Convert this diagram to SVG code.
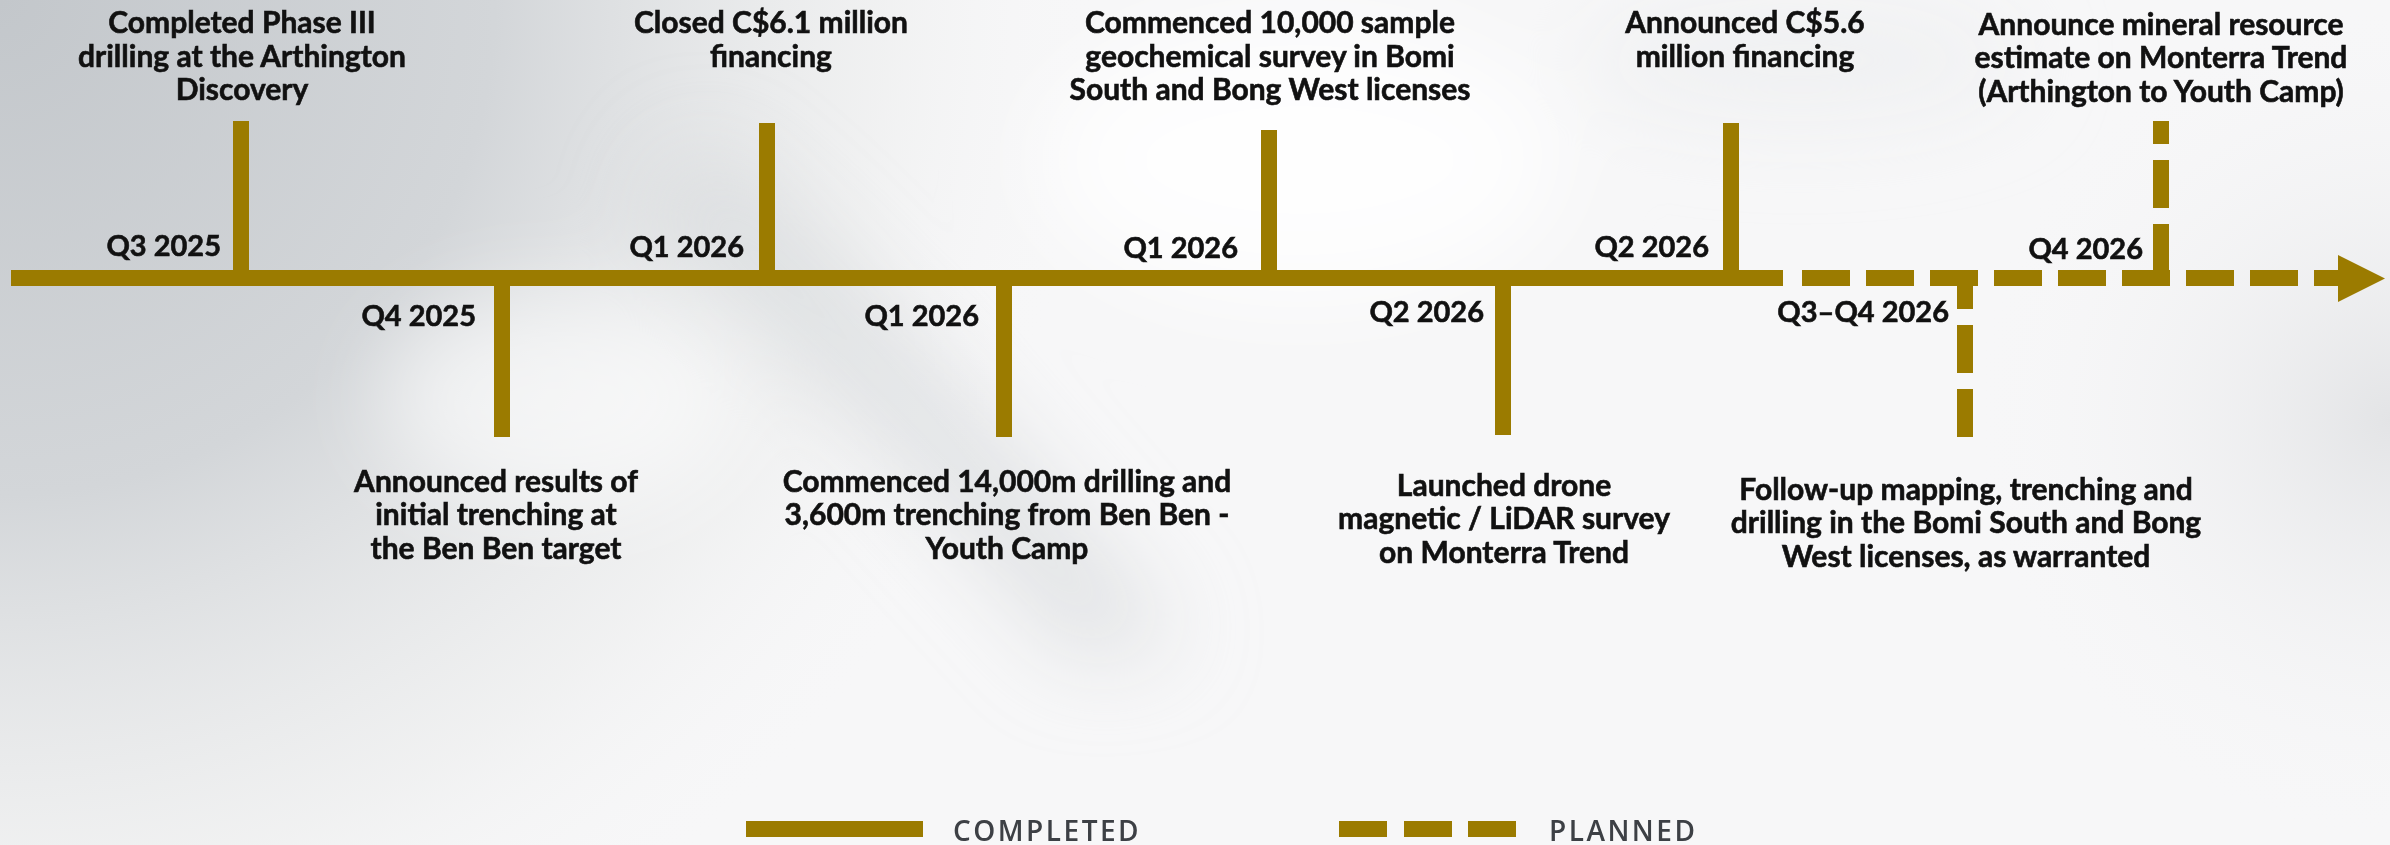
<svg xmlns="http://www.w3.org/2000/svg" width="2390" height="845" viewBox="0 0 2390 845">
  <defs>
    <radialGradient id="bgLeft" cx="0" cy="0" r="1100" gradientUnits="userSpaceOnUse">
      <stop offset="0" stop-color="#c3c7cb"/>
      <stop offset="0.45" stop-color="#d3d6d9"/>
      <stop offset="0.8" stop-color="#eceded" stop-opacity="0.6"/>
      <stop offset="1" stop-color="#f7f7f8" stop-opacity="0"/>
    </radialGradient>
    <radialGradient id="bgRight" cx="2390" cy="420" r="420" gradientUnits="userSpaceOnUse">
      <stop offset="0" stop-color="#e3e4e6"/>
      <stop offset="1" stop-color="#f7f7f8" stop-opacity="0"/>
    </radialGradient>
    <filter id="soft" x="-50%" y="-50%" width="200%" height="200%">
      <feGaussianBlur stdDeviation="45"/>
    </filter>
    <style>
      .gold { fill: #9b7b00; }
      .stem { stroke: #9b7b00; stroke-width: 16; fill: none; }
      .dash { stroke: #9b7b00; stroke-width: 16; fill: none; stroke-dasharray: 48 16; }
      .desc { font-family: Lato, "Liberation Sans", sans-serif; font-weight: 700; font-size: 30px; fill: #111111; stroke: #111111; stroke-width: 0.6px; text-anchor: middle; }
      .date { font-family: Lato, "Liberation Sans", sans-serif; font-weight: 700; font-size: 29px; fill: #111111; stroke: #111111; stroke-width: 0.6px; text-anchor: end; }
      .legend { font-family: "Open Sans", "Liberation Sans", sans-serif; font-weight: 600; font-size: 28px; fill: #3d4045; letter-spacing: 2.5px; }
    </style>
  </defs>

  <!-- backdrop: soft grey wash, brighter towards the middle and right -->
  <rect x="0" y="0" width="2390" height="845" fill="#f7f7f8"/>
  <rect x="0" y="0" width="2390" height="845" fill="url(#bgLeft)"/>
  <rect x="0" y="0" width="2390" height="845" fill="url(#bgRight)"/>
  <g filter="url(#soft)">
    <path d="M700,140 C860,260 980,420 1180,640 L1080,660 C900,470 800,340 640,220 Z" fill="#d6d8db" opacity="0.7"/>
    <ellipse cx="560" cy="400" rx="180" ry="110" fill="#ffffff" opacity="0.6"/>
    <ellipse cx="1300" cy="160" rx="260" ry="140" fill="#ffffff" opacity="0.8"/>
    <ellipse cx="1800" cy="60" rx="220" ry="60" fill="#eceef0" opacity="0.7"/>
  </g>

  <!-- timeline axis and tick connectors -->
  <g id="connectors">
    <line class="stem" x1="11" y1="278" x2="1783" y2="278"/>
    <line class="dash" x1="1802" y1="278" x2="2340" y2="278"/>
    <polygon class="gold" points="2338,255 2385,278.5 2338,302"/>

    <line class="stem" x1="241" y1="121" x2="241" y2="278"/>
    <line class="stem" x1="767" y1="123" x2="767" y2="278"/>
    <line class="stem" x1="1269" y1="130" x2="1269" y2="278"/>
    <line class="stem" x1="1731" y1="123" x2="1731" y2="278"/>
    <line class="dash" x1="2161" y1="272" x2="2161" y2="121"/>

    <line class="stem" x1="502" y1="278" x2="502" y2="437"/>
    <line class="stem" x1="1004" y1="278" x2="1004" y2="437"/>
    <line class="stem" x1="1503" y1="278" x2="1503" y2="435"/>
    <line class="dash" x1="1965" y1="437" x2="1965" y2="286"/>
  </g>

  <g id="m-q3-2025">
    <text class="date" x="221" y="256">Q3 2025</text>
    <text class="desc"><tspan x="242" y="33">Completed Phase III</tspan><tspan x="242" y="67">drilling at the Arthington</tspan><tspan x="242" y="100">Discovery</tspan></text>
  </g>

  <g id="m-q4-2025">
    <text class="date" x="476" y="326">Q4 2025</text>
    <text class="desc"><tspan x="496" y="492">Announced results of</tspan><tspan x="496" y="525">initial trenching at</tspan><tspan x="496" y="559">the Ben Ben target</tspan></text>
  </g>

  <g id="m-q1-2026-a">
    <text class="date" x="744" y="257">Q1 2026</text>
    <text class="desc"><tspan x="771" y="33">Closed C$6.1 million</tspan><tspan x="771" y="67">financing</tspan></text>
  </g>

  <g id="m-q1-2026-b">
    <text class="date" x="979" y="326">Q1 2026</text>
    <text class="desc"><tspan x="1007" y="492">Commenced 14,000m drilling and</tspan><tspan x="1007" y="525">3,600m trenching from Ben Ben -</tspan><tspan x="1007" y="559">Youth Camp</tspan></text>
  </g>

  <g id="m-q1-2026-c">
    <text class="date" x="1238" y="258">Q1 2026</text>
    <text class="desc"><tspan x="1270" y="33">Commenced 10,000 sample</tspan><tspan x="1270" y="67">geochemical survey in Bomi</tspan><tspan x="1270" y="100">South and Bong West licenses</tspan></text>
  </g>

  <g id="m-q2-2026-a">
    <text class="date" x="1484" y="322">Q2 2026</text>
    <text class="desc"><tspan x="1504" y="496">Launched drone</tspan><tspan x="1504" y="529">magnetic / LiDAR survey</tspan><tspan x="1504" y="563">on Monterra Trend</tspan></text>
  </g>

  <g id="m-q2-2026-b">
    <text class="date" x="1709" y="257">Q2 2026</text>
    <text class="desc"><tspan x="1745" y="33">Announced C$5.6</tspan><tspan x="1745" y="67">million financing</tspan></text>
  </g>

  <g id="m-q3-q4-2026">
    <text class="date" x="1949" y="322">Q3–Q4 2026</text>
    <text class="desc"><tspan x="1966" y="500">Follow-up mapping, trenching and</tspan><tspan x="1966" y="533">drilling in the Bomi South and Bong</tspan><tspan x="1966" y="567">West licenses, as warranted</tspan></text>
  </g>

  <g id="m-q4-2026">
    <text class="date" x="2143" y="259">Q4 2026</text>
    <text class="desc"><tspan x="2161" y="35">Announce mineral resource</tspan><tspan x="2161" y="68">estimate on Monterra Trend</tspan><tspan x="2161" y="102">(Arthington to Youth Camp)</tspan></text>
  </g>

  <g id="legend">
    <rect class="gold" x="746" y="821" width="177" height="16"/>
    <text class="legend" x="953" y="841">COMPLETED</text>
    <rect class="gold" x="1339" y="821" width="48" height="16"/>
    <rect class="gold" x="1404" y="821" width="48" height="16"/>
    <rect class="gold" x="1468" y="821" width="48" height="16"/>
    <text class="legend" x="1549" y="841">PLANNED</text>
  </g>
</svg>
